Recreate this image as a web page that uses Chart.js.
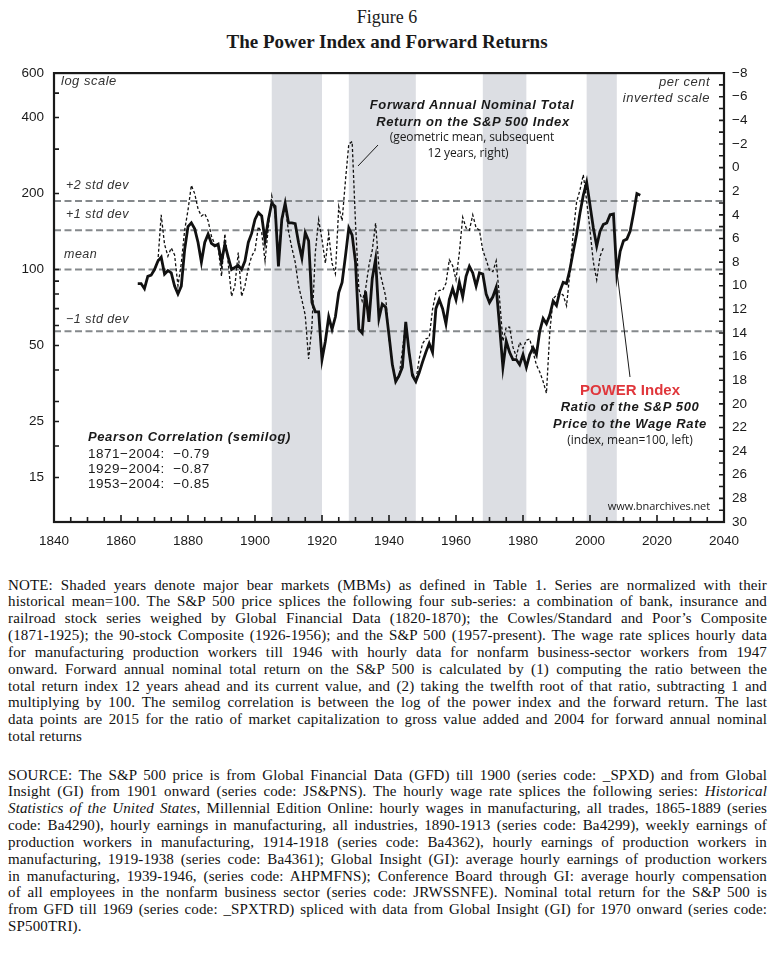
<!DOCTYPE html>
<html><head><meta charset="utf-8">
<script src="https://cdn.jsdelivr.net/npm/chart.js@4.4.1/dist/chart.umd.min.js"></script>
<style>
html,body{margin:0;padding:0;background:#fff;}
body{width:775px;height:957px;position:relative;overflow:hidden;font-family:"Liberation Sans",Arial,sans-serif;color:#1a1a1a;}
.t{position:absolute;white-space:nowrap;line-height:1;}
.c{transform:translateX(-50%);text-align:center;}
.r{transform:translateX(-100%);text-align:right;}
#wrap{position:absolute;left:0;top:55px;width:775px;height:502px;}
.bi{font-weight:bold;font-style:italic;letter-spacing:0.6px;font-size:13px;}
.op{font-family:"Open Sans","Noto Sans",sans-serif;font-size:12px;letter-spacing:-0.1px;}
.it{font-style:italic;font-size:12.5px;color:#333;letter-spacing:0.5px;}
.para{position:absolute;left:8px;width:759px;font-family:"Liberation Serif","Times New Roman",serif;font-size:15px;letter-spacing:0.15px;color:#111;}
.para div{height:16.85px;line-height:16.85px;text-align:justify;text-align-last:justify;white-space:nowrap;}
.para div.last{text-align-last:left;}
</style></head><body>

<div class="t c" style="left:387px;top:8px;font-family:'Liberation Serif',serif;font-size:18px;">Figure 6</div>
<div class="t c" style="left:387px;top:32px;font-family:'Liberation Serif',serif;font-size:19px;font-weight:bold;">The Power Index and Forward Returns</div>

<div id="wrap"><canvas id="c"></canvas></div>

<div class="t it" style="left:61px;top:74px;font-size:13px;">log scale</div>
<div class="t it r" style="left:710px;top:75px;font-size:13px;">per cent</div>
<div class="t it r" style="left:710px;top:91px;font-size:13px;">inverted scale</div>

<div class="t it" style="left:66px;top:179px;">+2 std dev</div>
<div class="t it" style="left:66px;top:208px;">+1 std dev</div>
<div class="t it" style="left:64px;top:248px;">mean</div>
<div class="t it" style="left:66px;top:313px;">&minus;1 std dev</div>

<div class="t c bi" style="left:472px;top:98px;">Forward Annual Nominal Total</div>
<div class="t c bi" style="left:473px;top:115px;">Return on the S&amp;P 500 Index</div>
<div class="t c op" style="left:472px;top:131px;">(geometric mean, subsequent</div>
<div class="t c op" style="left:468px;top:147px;">12 years, right)</div>

<div class="t c" style="left:630px;top:382px;font-size:15px;font-weight:bold;color:#e0363b;">POWER Index</div>
<div class="t c bi" style="left:630px;top:400px;">Ratio of the S&amp;P 500</div>
<div class="t c bi" style="left:630px;top:417px;">Price to the Wage Rate</div>
<div class="t c op" style="left:630px;top:434px;">(index, mean=100, left)</div>

<div class="t r op" style="left:710px;top:500px;font-size:11px;">www.bnarchives.net</div>

<div class="t bi" style="left:88px;top:430px;">Pearson Correlation (semilog)</div>
<div class="t" style="left:88px;top:447px;font-size:13.5px;letter-spacing:0.5px;">1871&minus;2004:&nbsp; &minus;0.79</div>
<div class="t" style="left:88px;top:462px;font-size:13.5px;letter-spacing:0.5px;">1929&minus;2004:&nbsp; &minus;0.87</div>
<div class="t" style="left:88px;top:477px;font-size:13.5px;letter-spacing:0.5px;">1953&minus;2004:&nbsp; &minus;0.85</div>

<div class="para" style="top:576.5px;">
<div>NOTE: Shaded years denote major bear markets (MBMs) as defined in Table 1. Series are normalized with their</div>
<div>historical mean=100. The S&amp;P 500 price splices the following four sub-series: a combination of bank, insurance and</div>
<div>railroad stock series weighed by Global Financial Data (1820-1870); the Cowles/Standard and Poor&rsquo;s Composite</div>
<div>(1871-1925); the 90-stock Composite (1926-1956); and the S&amp;P 500 (1957-present). The wage rate splices hourly data</div>
<div>for manufacturing production workers till 1946 with hourly data for nonfarm business-sector workers from 1947</div>
<div>onward. Forward annual nominal total return on the S&amp;P 500 is calculated by (1) computing the ratio between the</div>
<div>total return index 12 years ahead and its current value, and (2) taking the twelfth root of that ratio, subtracting 1 and</div>
<div>multiplying by 100. The semilog correlation is between the log of the power index and the forward return. The last</div>
<div>data points are 2015 for the ratio of market capitalization to gross value added and 2004 for forward annual nominal</div>
<div class="last">total returns</div>
</div>

<div class="para" style="top:766.5px;">
<div>SOURCE: The S&amp;P 500 price is from Global Financial Data (GFD) till 1900 (series code: _SPXD) and from Global</div>
<div>Insight (GI) from 1901 onward (series code: JS&amp;PNS). The hourly wage rate splices the following series: <i>Historical</i></div>
<div><i>Statistics of the United States</i>, Millennial Edition Online: hourly wages in manufacturing, all trades, 1865-1889 (series</div>
<div>code: Ba4290), hourly earnings in manufacturing, all industries, 1890-1913 (series code: Ba4299), weekly earnings of</div>
<div>production workers in manufacturing, 1914-1918 (series code: Ba4362), hourly earnings of production workers in</div>
<div>manufacturing, 1919-1938 (series code: Ba4361); Global Insight (GI): average hourly earnings of production workers</div>
<div>in manufacturing, 1939-1946, (series code: AHPMFNS); Conference Board through GI: average hourly compensation</div>
<div>of all employees in the nonfarm business sector (series code: JRWSSNFE). Nominal total return for the S&amp;P 500 is</div>
<div>from GFD till 1969 (series code: _SPXTRD) spliced with data from Global Insight (GI) for 1970 onward (series code:</div>
<div class="last">SP500TRI).</div>
</div>

<script>
// fit each justified line of the notes into the text width
document.querySelectorAll('.para div').forEach(d => {
  const span = document.createElement('span');
  span.innerHTML = d.innerHTML;
  span.style.whiteSpace = 'nowrap';
  d.innerHTML = '';
  d.appendChild(span);
  const w = span.getBoundingClientRect().width;
  const n = (span.textContent || '').length;
  if (w > 757 && n > 0) {
    const cur = parseFloat(getComputedStyle(span).letterSpacing) || 0;
    d.style.letterSpacing = (cur - (w - 757) / n) + 'px';
  }
  d.innerHTML = span.innerHTML;
});

// ---------- DATA ----------
const powerYears = [
 1865,1866,1867,1868,1869,1870,1871,1872,1873,1874,1875,1876,1877,1878,1879,
 1880,1881,1882,1883,1884,1885,1886,1887,1888,1889,
 1890,1891,1892,1893,1894,1895,1896,1897,1898,1899,
 1900,1901,1902,1903,1904,1905,1906,1907,1908,1909,
 1910,1911,1912,1913,1914,1915,1916,1917,1918,1919,
 1920,1921,1922,1923,1924,1925,1926,1927,1928,1929,
 1930,1931,1932,1933,1934,1935,1936,1937,1938,1939,
 1940,1941,1942,1943,1944,1945,1946,1947,1948,1949,
 1950,1951,1952,1953,1954,1955,1956,1957,1958,1959,
 1960,1961,1962,1963,1964,1965,1966,1967,1968,1969,
 1970,1971,1972,1973,1974,1975,1976,1977,1978,1979,
 1980,1981,1982,1983,1984,1985,1986,1987,1988,1989,
 1990,1991,1992,1993,1994,1995,1996,1997,1998,1999,
 2000,2001,2002,2003,2004,2005,2006,2007,2008,2009,
 2010,2011,2012,2013,2014,2015];
const powerIndex = [
 88,88,84,94,95,100,108,112,96,99,97,86,80,86,120,
 148,153,145,128,107,128,138,127,124,126,
 107,126,112,100,102,104,100,108,128,139,
 158,168,163,130,158,183,178,103,158,183,
 153,153,152,128,111,140,130,74,68,68,
 44,52,65,58,65,81,89,113,146,137,
 107,58,56,82,62,92,110,64,73,71,
 55,42,36,38,41,62,47,38,36,39,
 43,47,51,47,70,76,70,61,76,84,
 76,89,78,94,103,97,86,97,96,80,
 74,78,85,60,41,52,47,44,44,42,
 46,41,46,49,46,57,64,61,66,75,
 72,82,89,88,100,118,138,167,197,222,
 180,146,124,142,151,153,165,166,96,118,
 130,132,142,167,200,197];

const fwdYears = [
 1871,1872,1873,1874,1875,1876,1877,1878,1879,1880,
 1881,1882,1883,1884,1885,1886,1887,1888,1889,1890,
 1891,1892,1893,1894,1895,1896,1897,1898,1899,1900,
 1901,1902,1903,1904,1905,1906,1907,1908,1909,1910,
 1911,1912,1913,1914,1915,1916,1917,1918,1919,1920,
 1921,1922,1923,1924,1925,1926,1927,1928,1929,1930,
 1931,1932,1933,1934,1935,1936,1937,1938,1939,1940,
 1941,1942,1943,1944,1945,1946,1947,1948,1949,1950,
 1951,1952,1953,1954,1955,1956,1957,1958,1959,1960,
 1961,1962,1963,1964,1965,1966,1967,1968,1969,1970,
 1971,1972,1973,1974,1975,1976,1977,1978,1979,1980,
 1981,1982,1983,1984,1985,1986,1987,1988,1989,1990,
 1991,1992,1993,1994,1995,1996,1997,1998,1999,2000,
 2001,2002,2003,2004];
const fwdReturn = [
 8.0,4.0,6.5,7.5,6.8,7.4,10.0,8.1,5.3,3.6,
 1.5,2.2,3.5,4.1,3.9,4.5,5.8,6.5,6.7,9.2,
 5.6,8.1,10.9,10.0,7.2,10.9,10.0,8.5,7.5,7.0,
 5.0,5.5,7.9,5.0,2.4,3.9,7.2,4.6,3.2,5.4,
 6.8,8.0,10.0,11.2,12.5,16.2,13.4,7.2,4.4,6.1,
 8.1,5.6,8.1,9.0,3.3,4.5,1.1,-2.0,-2.2,4.7,
 10.3,11.3,10.3,8.3,7.0,4.7,8.5,9.7,10.9,14.5,
 16.5,18.1,17.7,15.5,13.1,15.6,17.3,18.1,16.2,14.9,
 14.5,14.4,12.0,10.6,10.4,10.4,9.8,7.8,8.3,9.5,
 7.2,4.2,5.1,5.3,4.0,5.1,5.3,7.0,7.8,8.7,
 8.8,7.9,11.1,14.7,13.5,13.5,15.2,16.0,14.8,15.3,
 14.6,14.5,15.6,16.7,17.3,18.1,19.1,13.9,11.1,10.8,
 10.6,10.8,11.7,8.9,5.5,2.9,1.9,0.6,2.8,5.3,
 8.0,9.5,7.5,6.8];

// std-dev reference levels (left axis, index)
const sdLevels = [187, 143, 100, 57];
// major bear market shading (years)
const bandStart = [1905, 1928, 1968, 1999];
const bandEnd   = [1920, 1948, 1981, 2008];

// axis ticks
const xTicks = [1840,1845,1850,1855,1860,1865,1870,1875,1880,1885,1890,1895,1900,1905,1910,1915,1920,1925,1930,1935,1940,1945,1950,1955,1960,1965,1970,1975,1980,1985,1990,1995,2000,2005,2010,2015,2020,2025,2030,2035,2040];
const xLabels = [1840,1860,1880,1900,1920,1940,1960,1980,2000,2020,2040];
const leftTicks = [10,15,20,25,30,40,50,60,70,80,90,100,200,300,400,500,600];
const leftLabels = [600,400,200,100,50,25,15];
const rightTicks = [-8,-7,-6,-5,-4,-3,-2,-1,0,1,2,3,4,5,6,7,8,9,10,11,12,13,14,15,16,17,18,19,20,21,22,23,24,25,26,27,28,29,30];
const rightLabels = [-8,-6,-4,-2,0,2,4,6,8,10,12,14,16,18,20,22,24,26,28,30];

// ---------- CHART ----------
const fmtNeg = v => v < 0 ? '\u2212' + Math.abs(v) : String(v);

const decor = {
  id: 'decor',
  beforeDatasetsDraw(chart) {
    const {ctx, chartArea: a, scales: {x}} = chart;
    ctx.save();
    ctx.fillStyle = '#dcdee3';
    bandStart.forEach((s, i) => {
      const x0 = x.getPixelForValue(s), x1 = x.getPixelForValue(bandEnd[i]);
      ctx.fillRect(x0, a.top, x1 - x0, a.bottom - a.top);
    });
    ctx.restore();
  },
  afterDatasetsDraw(chart) {
    const {ctx, chartArea: a, scales: {x, y, y2}} = chart;
    ctx.save();
    ctx.strokeStyle = '#1a1a1a';
    ctx.lineWidth = 1.6;
    ctx.beginPath();
    xTicks.forEach(v => {
      const px = x.getPixelForValue(v);
      const len = (v % 20 === 0) ? 7 : 5;
      ctx.moveTo(px, a.bottom); ctx.lineTo(px, a.bottom - len);
    });
    leftTicks.forEach(v => {
      const py = y.getPixelForValue(v);
      ctx.moveTo(a.left, py); ctx.lineTo(a.left + 5, py);
    });
    rightTicks.forEach(v => {
      const py = y2.getPixelForValue(v);
      ctx.moveTo(a.right, py); ctx.lineTo(a.right - 5, py);
    });
    ctx.stroke();
    ctx.lineWidth = 2.2;
    ctx.strokeRect(a.left, a.top, a.right - a.left, a.bottom - a.top);
    ctx.lineWidth = 1;
    ctx.beginPath();
    ctx.moveTo(378, 145 - 55); ctx.lineTo(358, 166 - 55);
    ctx.moveTo(617, 272 - 55); ctx.lineTo(630, 377 - 55);
    ctx.stroke();
    ctx.restore();
  }
};

const sdSets = sdLevels.map(v => ({
  data: [{x: 1840, y: v}, {x: 2040, y: v}],
  yAxisID: 'y', borderColor: '#85898c', borderWidth: 2, borderDash: [7, 3.5],
  pointRadius: 0, tension: 0
}));

new Chart(document.getElementById('c'), {
  type: 'line',
  data: {
    datasets: [
      { data: powerYears.map((yr, i) => ({x: yr, y: powerIndex[i]})), yAxisID: 'y',
        borderColor: '#111', borderWidth: 2.8, pointRadius: 0, tension: 0, borderJoinStyle: 'miter' },
      { data: fwdYears.map((yr, i) => ({x: yr, y: fwdReturn[i]})), yAxisID: 'y2',
        borderColor: '#111', borderWidth: 1.3, borderDash: [3, 2.2], pointRadius: 0, tension: 0 },
      ...sdSets
    ]
  },
  plugins: [decor],
  options: {
    responsive: true, maintainAspectRatio: false, animation: false,
    layout: { padding: { top: 13, left: 0, right: 0, bottom: 0 } },
    plugins: { legend: { display: false }, tooltip: { enabled: false } },
    scales: {
      x: {
        type: 'linear', min: 1840, max: 2040, position: 'bottom',
        afterBuildTicks: s => { s.ticks = xTicks.map(v => ({value: v})); },
        afterFit: s => { s.height = 35; },
        grid: { display: false, drawTicks: false }, border: { display: false },
        ticks: { autoSkip: false, maxRotation: 0, padding: 11, color: '#1a1a1a',
          font: { family: 'Liberation Sans', size: 13.5 },
          callback: v => xLabels.includes(v) ? String(v) : '' }
      },
      y: {
        type: 'logarithmic', min: 10, max: 600, position: 'left',
        afterBuildTicks: s => { s.ticks = leftTicks.map(v => ({value: v})); },
        afterFit: s => { s.width = 54; },
        grid: { display: false, drawTicks: false }, border: { display: false },
        ticks: { autoSkip: false, padding: 10, color: '#1a1a1a',
          font: { family: 'Liberation Sans', size: 13.5 },
          callback: v => leftLabels.includes(v) ? String(v) : '' }
      },
      y2: {
        type: 'linear', min: -8, max: 30, reverse: true, position: 'right',
        afterBuildTicks: s => { s.ticks = rightTicks.map(v => ({value: v})); },
        afterFit: s => { s.width = 51; },
        grid: { display: false, drawTicks: false }, border: { display: false },
        ticks: { autoSkip: false, padding: 8, color: '#1a1a1a',
          font: { family: 'Liberation Sans', size: 13.5 },
          callback: v => rightLabels.includes(v) ? fmtNeg(v) : '' }
      }
    }
  }
});
</script>
</body></html>
